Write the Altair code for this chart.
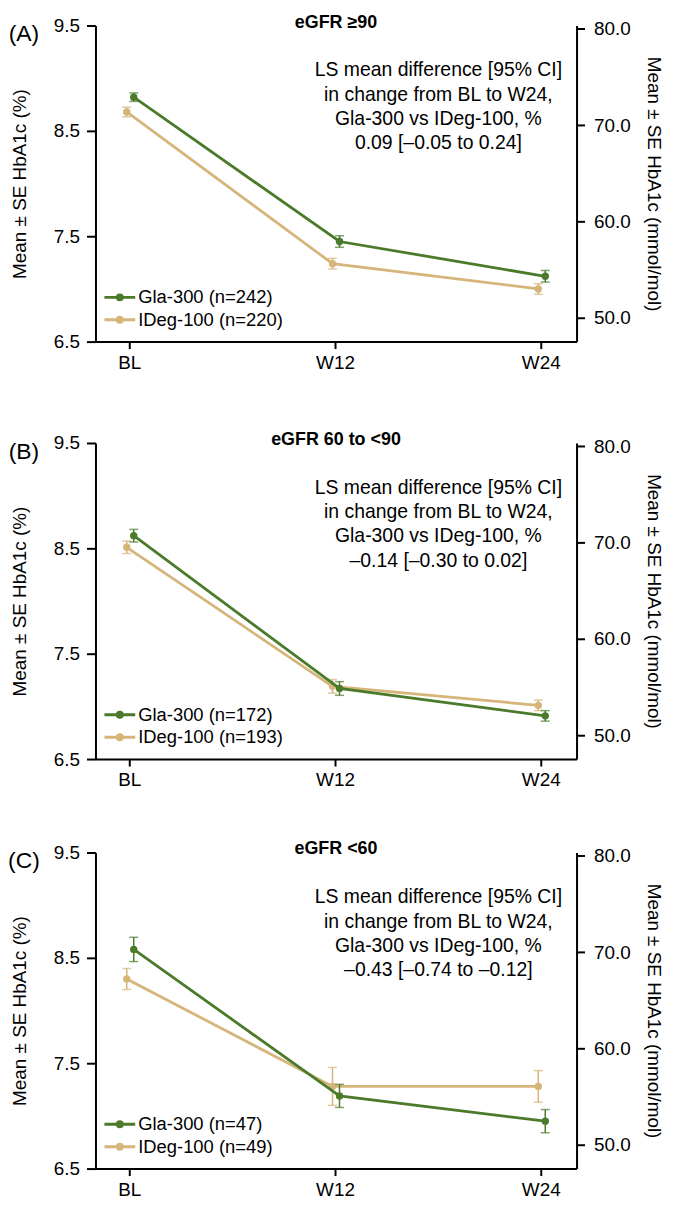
import altair as alt
import pandas as pd

FONT = "Liberation Sans, Arial, Helvetica, sans-serif"

# ---- data ----
timepoints = ["BL", "W12", "W24"]
series_names = ["Gla-300", "IDeg-100"]
series_colors = ["#4b7a2b", "#d5b57a"]
series_dodge = [0.022, -0.012]

panel_letters = ["(A)", "(B)", "(C)"]
panel_titles = ["eGFR ≥90", "eGFR 60 to <90", "eGFR <60"]
gla_n = [242, 172, 47]
ideg_n = [220, 193, 49]

gla_mean_a = [8.82, 7.45, 7.12]
gla_se_a = [0.04, 0.055, 0.055]
ideg_mean_a = [8.68, 7.24, 7.00]
ideg_se_a = [0.045, 0.05, 0.05]

gla_mean_b = [8.62, 7.17, 6.91]
gla_se_b = [0.06, 0.065, 0.05]
ideg_mean_b = [8.51, 7.19, 7.01]
ideg_se_b = [0.06, 0.065, 0.05]

gla_mean_c = [8.58, 7.19, 6.95]
gla_se_c = [0.115, 0.11, 0.11]
ideg_mean_c = [8.30, 7.28, 7.28]
ideg_se_c = [0.10, 0.18, 0.15]

annotation_header = ["LS mean difference [95% CI]", "in change from BL to W24,", "Gla-300 vs IDeg-100, %"]
diff_text = ["0.09 [–0.05 to 0.24]", "–0.14 [–0.30 to 0.02]", "–0.43 [–0.74 to –0.12]"]

y_ticks_pct = [6.5, 7.5, 8.5, 9.5]
y_ticks_mmol = [50, 60, 70, 80]
pct_domain = [6.5, 9.5]
x_domain = [-0.164, 2.174]

# IFCC conversion (mmol/mol = 10.929 * (% - 2.15))
CONV_A, CONV_B = 10.929, 2.15
mmol_domain = [CONV_A * (pct_domain[0] - CONV_B), CONV_A * (pct_domain[1] - CONV_B)]

W, H = 484, 318

label_expr = "[" + ",".join("'%s'" % t for t in timepoints) + "][datum.value]"

legend_path = ("M-1.55,0H1.55"
               "M-0.25,0A0.25,0.25,0,1,1,0.25,0A0.25,0.25,0,1,1,-0.25,0"
               "M-0.1,0A0.1,0.1,0,1,1,0.1,0A0.1,0.1,0,1,1,-0.1,0")


def panel(k, gla_mean, gla_se, ideg_mean, ideg_se):
    labels = [f"{series_names[0]} (n={gla_n[k]})", f"{series_names[1]} (n={ideg_n[k]})"]
    rows = []
    for s, (means, ses) in enumerate([(gla_mean, gla_se), (ideg_mean, ideg_se)]):
        for i, t in enumerate(timepoints):
            rows.append(dict(series=labels[s], order=s, tp=t, x=i + series_dodge[s],
                             mean=means[i], lo=means[i] - ses[i], hi=means[i] + ses[i]))
    df = pd.DataFrame(rows)

    xaxis = alt.Axis(values=[0, 1, 2], labelExpr=label_expr, title=None, tickSize=7,
                     labelPadding=5, grid=False)
    xenc = alt.X("x:Q", scale=alt.Scale(domain=x_domain, nice=False, zero=False), axis=xaxis)
    yscale = alt.Scale(domain=pct_domain, nice=False, zero=False)
    yaxis = alt.Axis(values=y_ticks_pct, format=".1f", title="Mean ± SE HbA1c (%)",
                     tickSize=9, labelPadding=7, titleX=-66, grid=False)
    cscale = alt.Scale(domain=labels, range=series_colors)
    legend = alt.Legend(title=None, orient="none", legendX=13, legendY=H - 56, symbolType=legend_path,
                        symbolSize=400, symbolStrokeWidth=3, labelOffset=7, padding=0,
                        rowPadding=1.5, labelFontSize=18.5, labelFont=FONT, labelColor="black")

    def Y(field):
        return alt.Y(f"{field}:Q", scale=yscale, axis=yaxis)

    layers = []
    for s in [1, 0]:
        base = alt.Chart(df).transform_filter(alt.datum.order == s)
        cval = alt.value(series_colors[s])
        col_leg = alt.Color("series:N", scale=cscale, legend=legend)
        layers.append(base.mark_rule(strokeWidth=1.5).encode(x=xenc, y=Y("lo"), y2="hi:Q", color=cval))
        layers.append(base.mark_tick(orient="horizontal", size=9, thickness=1.5).encode(x=xenc, y=Y("lo"), color=cval))
        layers.append(base.mark_tick(orient="horizontal", size=9, thickness=1.5).encode(x=xenc, y=Y("hi"), color=cval))
        layers.append(base.mark_line(strokeWidth=2.8).encode(x=xenc, y=Y("mean"), color=col_leg))
        layers.append(base.mark_point(filled=True, size=55, opacity=1).encode(x=xenc, y=Y("mean"), color=cval))

    ann = alt.Chart(pd.DataFrame({"t": ["\n".join(annotation_header + [diff_text[k]])]})).mark_text(
        lineBreak="\n", align="center", baseline="top", fontSize=19.5, lineHeight=24.5,
        font=FONT, color="black").encode(x=alt.value(345), y=alt.value(36), text="t:N")
    letter = alt.Chart(pd.DataFrame({"t": [panel_letters[k]]})).mark_text(
        align="center", baseline="middle", fontSize=23, font=FONT, color="black").encode(
        x=alt.value(-72), y=alt.value(9), text="t:N")
    title = alt.Chart(pd.DataFrame({"t": [panel_titles[k]]})).mark_text(
        align="center", baseline="alphabetic", fontSize=18, fontWeight="bold", font=FONT,
        color="black").encode(x=alt.value(W / 2), y=alt.value(2), text="t:N")

    main = alt.layer(*layers, ann, letter, title)

    right = alt.Chart(df).transform_calculate(
        mmol=f"{CONV_A}*(datum.mean-{CONV_B})").mark_point(opacity=0).encode(
        x=xenc,
        y=alt.Y("mmol:Q", scale=alt.Scale(domain=mmol_domain, nice=False, zero=False),
                axis=alt.Axis(orient="right", values=y_ticks_mmol, format=".1f",
                              title="Mean ± SE HbA1c (mmol/mol)", tickSize=8, labelPadding=9,
                              titleX=67, grid=False)))

    return alt.layer(main, right).resolve_scale(y="independent").properties(width=W, height=H)


pa = panel(0, gla_mean_a, gla_se_a, ideg_mean_a, ideg_se_a)
pb = panel(1, gla_mean_b, gla_se_b, ideg_mean_b, ideg_se_b)
pc = panel(2, gla_mean_c, gla_se_c, ideg_mean_c, ideg_se_c)

top = alt.vconcat(pa, pb, spacing=59).resolve_scale(
    color="independent", x="independent", y="independent").resolve_legend(color="independent")
chart = alt.vconcat(top, pc, spacing=51).resolve_scale(
    color="independent", x="independent", y="independent").resolve_legend(color="independent").properties(
    padding={"top": 2, "right": 4, "left": 0, "bottom": 0}).configure_axis(
    domainColor="black", domainWidth=2, tickColor="black", tickWidth=2,
    labelColor="black", titleColor="black", labelFont=FONT, titleFont=FONT,
    labelFontSize=19, titleFontSize=19, titleFontWeight="normal").configure_view(stroke=None)

chart.save("out.html", embed_options={"renderer": "svg", "actions": False})
